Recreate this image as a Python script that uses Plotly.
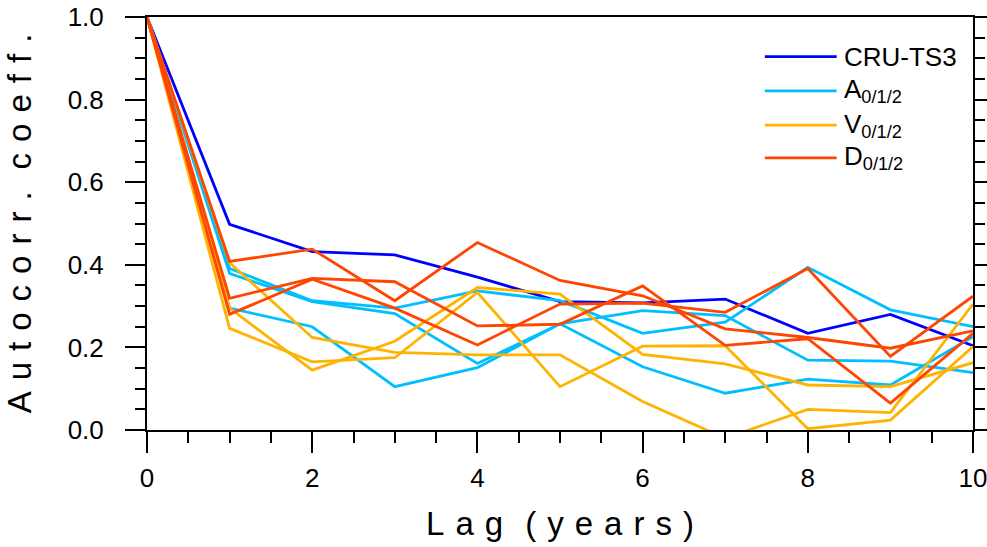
import plotly.graph_objects as go

# Lag (years) and autocorrelation coefficients
lags = list(range(11))

cru_ts3 = [1.0, 0.498, 0.432, 0.424, 0.370, 0.311, 0.308, 0.317, 0.234, 0.280, 0.204]

a_runs = [
    [1.0, 0.391, 0.313, 0.295, 0.337, 0.313, 0.234, 0.261, 0.394, 0.291, 0.250],
    [1.0, 0.379, 0.311, 0.282, 0.161, 0.257, 0.289, 0.277, 0.169, 0.167, 0.139],
    [1.0, 0.295, 0.250, 0.105, 0.151, 0.257, 0.153, 0.089, 0.123, 0.109, 0.226],
]

v_runs = [
    [1.0, 0.405, 0.224, 0.188, 0.182, 0.182, 0.069, -0.020, 0.050, 0.042, 0.305],
    [1.0, 0.295, 0.145, 0.215, 0.345, 0.329, 0.183, 0.160, 0.109, 0.105, 0.163],
    [1.0, 0.246, 0.165, 0.175, 0.333, 0.105, 0.203, 0.204, 0.003, 0.024, 0.202],
]

d_runs = [
    [1.0, 0.408, 0.438, 0.313, 0.454, 0.362, 0.325, 0.245, 0.224, 0.198, 0.240],
    [1.0, 0.319, 0.367, 0.359, 0.252, 0.256, 0.349, 0.205, 0.221, 0.065, 0.234],
    [1.0, 0.280, 0.365, 0.295, 0.206, 0.305, 0.307, 0.285, 0.391, 0.178, 0.324],
]

group_names = ["CRU-TS3", "A<sub>0/1/2</sub>", "V<sub>0/1/2</sub>", "D<sub>0/1/2</sub>"]
group_colors = ["#0000FF", "#00BFFF", "#FFB300", "#FF4500"]
group_series = [[cru_ts3], a_runs, v_runs, d_runs]

x_ticks = [0, 2, 4, 6, 8, 10]
y_ticks = [0.0, 0.2, 0.4, 0.6, 0.8, 1.0]

FONT = "Liberation Sans, Arial, Helvetica, sans-serif"
LINE_W = 2.8

fig = go.Figure()

for series, color in zip(group_series, group_colors):
    for ys in series:
        fig.add_trace(go.Scatter(
            x=lags, y=ys, mode="lines",
            line=dict(color=color, width=LINE_W),
            showlegend=False, hoverinfo="skip",
        ))

# empty trace so the right-hand tick axis is drawn
fig.add_trace(go.Scatter(x=[], y=[], yaxis="y2", showlegend=False))

# hand-drawn legend in the upper right corner
leg_x0, leg_x1, leg_tx = 0.748, 0.835, 0.841
leg_rows = [0.904, 0.821, 0.738, 0.659]
for name, color, yr in zip(group_names, group_colors, leg_rows):
    fig.add_shape(type="line", xref="paper", yref="paper",
                  x0=leg_x0, x1=leg_x1, y0=yr, y1=yr,
                  line=dict(color=color, width=LINE_W))
    fig.add_annotation(xref="paper", yref="paper", x=leg_tx, y=yr,
                       text=name, showarrow=False, xanchor="left",
                       yanchor="middle", font=dict(family=FONT, size=26, color="black"))

# spaced-out axis titles
SP = "\u2004"
ytitle = SP.join("Autocorr.") + SP * 2 + SP.join("coeff.")
xtitle = SP.join("Lag") + SP * 2 + SP.join("(years)")

axis_common = dict(
    showgrid=False, zeroline=False, automargin=False,
    showline=True, linecolor="black", linewidth=2,
    ticks="outside", tickcolor="black", tickwidth=1.5,
    tickfont=dict(family=FONT, size=26, color="black"),
    ticklabeloverflow="allow",
)

fig.update_layout(
    width=987, height=547,
    margin=dict(l=147, r=14, t=17, b=117),
    paper_bgcolor="white", plot_bgcolor="white",
    xaxis=dict(
        range=[0, 10], tickvals=x_ticks, ticklen=21, mirror=True,
        ticklabelstandoff=3,
        minor=dict(dtick=0.5, ticklen=11, tickcolor="black", tickwidth=1.5, ticks="outside"),
        title=dict(text=xtitle, font=dict(family=FONT, size=33, color="black"), standoff=20),
        **axis_common,
    ),
    yaxis=dict(
        range=[0, 1], tickvals=y_ticks, tickformat=".1f", ticklen=20, mirror=True,
        ticklabelstandoff=16,
        minor=dict(dtick=0.05, ticklen=10, tickcolor="black", tickwidth=1.5, ticks="outside"),
        title=dict(text=ytitle, font=dict(family=FONT, size=33, color="black"), standoff=26),
        **axis_common,
    ),
    yaxis2=dict(
        range=[0, 1], overlaying="y", side="right", anchor="x", automargin=False,
        tickvals=y_ticks, ticklen=20, showticklabels=False,
        minor=dict(dtick=0.05, ticklen=11, tickcolor="black", tickwidth=1.5, ticks="outside"),
        showgrid=False, zeroline=False, showline=False,
        ticks="outside", tickcolor="black", tickwidth=1.5,
    ),
)

fig.write_html("out.html")
